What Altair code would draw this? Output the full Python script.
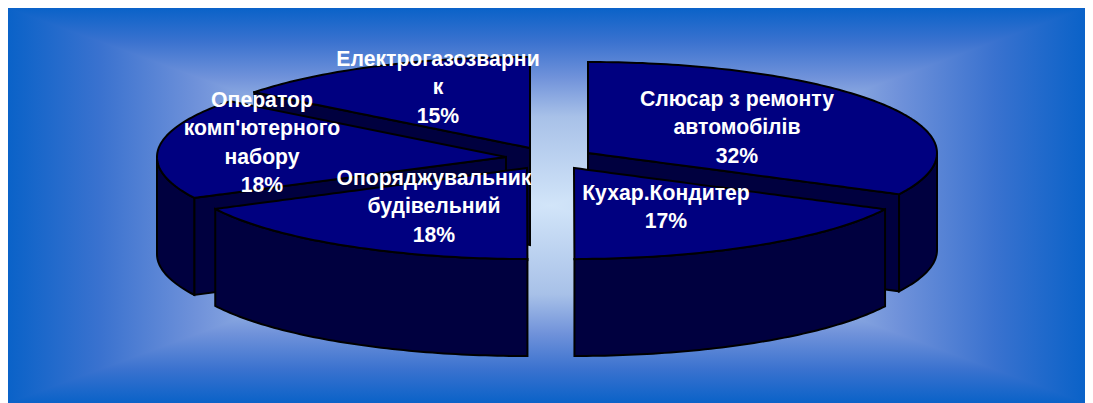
import numpy as np
import pandas as pd
import altair as alt

# --- values ---
categories = ["Слюсар з ремонту автомобілів", "Кухар.Кондитер", "Опоряджувальник будівельний",
              "Оператор комп'ютерного набору", "Електрогазозварник"]
shares = [32.49, 17.49, 17.6, 17.92, 14.5]
label_lines = [["Слюсар з ремонту", "автомобілів", "32%"],
               ["Кухар.Кондитер", "17%"],
               ["Опоряджувальник", "будівельний", "18%"],
               ["Оператор", "комп'ютерного", "набору", "18%"],
               ["Електрогазозварни", "к", "15%"]]

# --- layout (picture pixels) ---
X0, Y0, X1, Y1 = 8, 8, 1085, 403
BG_CENTRE = (550, 205)
RX, RY, DEPTH = 349, 91, 97
centres = [(588, 153), (574, 168), (527, 168), (506, 157), (530, 148)]
label_centre = [737, 666, 434, 262, 438]
label_first_y = [100, 194, 179, 101, 60]
LINE_STEP = 28.4
TOP, WALL = "#000080", "#00003f"
x_scale = alt.Scale(domain=[X0, X1], nice=False, zero=False)
y_scale = alt.Scale(domain=[Y1, Y0], nice=False, zero=False)

edges = np.concatenate([[0], np.cumsum(shares) * 3.6])


def rim(c, a, b, dy=0.0):
    ts = np.radians(np.linspace(a, b, max(2, int(abs(b - a)) + 2)))
    return [(c[0] + RX * np.sin(t), c[1] - RY * np.cos(t) + dy) for t in ts]


def to_area(poly):
    """Upper and lower boundary of an x-monotone polygon, for an area mark."""
    pts = np.array(poly)
    xs = np.unique(np.round(pts[:, 0], 2))
    rows = []
    n = len(pts)
    for x in xs:
        ys = []
        for i in range(n):
            (xa, ya), (xb, yb) = pts[i], pts[(i + 1) % n]
            lo, hi = min(xa, xb) - 0.006, max(xa, xb) + 0.006
            if lo <= x <= hi:
                if abs(xb - xa) < 0.01:
                    ys += [ya, yb]
                else:
                    ys.append(ya + (yb - ya) * (x - xa) / (xb - xa))
        rows.append({"x": float(x), "y": float(min(ys)), "y2": float(max(ys))})
    return pd.DataFrame(rows)


def face(poly, color):
    return alt.Chart(to_area(poly)).mark_area(
        fill=color, stroke="black", strokeWidth=2, strokeJoin="miter", clip=False
    ).encode(
        x=alt.X("x:Q", scale=x_scale, axis=None),
        y=alt.Y("y:Q", scale=y_scale, axis=None),
        y2="y2:Q",
    )


def slice_layers(i, cut_at=None):
    c = centres[i]
    a, b = edges[i], edges[i + 1]
    out = []
    if cut_at is not None:
        corner = rim(c, cut_at, cut_at)[0]
        out.append(face([c, corner, (corner[0], corner[1] + DEPTH), (c[0], c[1] + DEPTH)], WALL))
    lo, hi = max(a, 90), min(b, 270)
    if lo < hi:
        out.append(face(rim(c, lo, hi) + rim(c, lo, hi, DEPTH)[::-1], WALL))
    out.append(face([c] + rim(c, a, b), TOP))
    return out


# --- background: gradient bands meeting at the centre ---
stops = [alt.GradientStop(offset=0, color="#0a62c8"),
         alt.GradientStop(offset=0.17, color="#3a72cf"),
         alt.GradientStop(offset=0.35, color="#7092da"),
         alt.GradientStop(offset=0.55, color="#a8c1e8"),
         alt.GradientStop(offset=1, color="#d2e5f9")]
CX, CY = BG_CENTRE


def tri(xs, ys, y2s, x1, y1, x2, y2):
    d = pd.DataFrame({"x": xs, "y": ys, "y2": y2s})
    grad = alt.Gradient(gradient="linear", stops=stops, x1=x1, y1=y1, x2=x2, y2=y2)
    return alt.Chart(d).mark_area(color=grad, strokeWidth=0).encode(
        x=alt.X("x:Q", scale=x_scale, axis=None),
        y=alt.Y("y:Q", scale=y_scale, axis=None),
        y2="y2:Q",
    )


background = [
    tri([X0, X1], [Y0, Y0], [CY + 1, CY + 1], 0, 0, 0, 1),
    tri([X0, X1], [CY, CY], [Y1, Y1], 0, 1, 0, 0),
    tri([X0, CX], [Y0, CY], [Y1, CY], 0, 0, 1, 0),
    tri([CX, X1], [CY, Y0], [CY, Y1], 1, 0, 0, 0),
]

# --- slices, back to front ---
layers = list(background)
layers += slice_layers(4, cut_at=edges[4])
layers += slice_layers(3, cut_at=edges[3])
layers += slice_layers(0, cut_at=edges[1])
layers += slice_layers(2)
layers += slice_layers(1)

# --- labels ---
text_rows = []
for i, lines in enumerate(label_lines):
    for j, line in enumerate(lines):
        text_rows.append({"x": label_centre[i], "y": label_first_y[i] + j * LINE_STEP, "t": line})
labels = alt.Chart(pd.DataFrame(text_rows)).mark_text(
    font="Liberation Sans", fontWeight="bold", fontSize=21.2, color="white",
    align="center", baseline="middle"
).encode(
    x=alt.X("x:Q", scale=x_scale, axis=None),
    y=alt.Y("y:Q", scale=y_scale, axis=None),
    text="t:N",
)
layers.append(labels)

chart = alt.layer(*layers).properties(
    width=X1 - X0, height=Y1 - Y0, padding=0, background="white",
).configure_view(stroke=None)

chart.save("out.html", embed_options={"renderer": "svg", "actions": False})
